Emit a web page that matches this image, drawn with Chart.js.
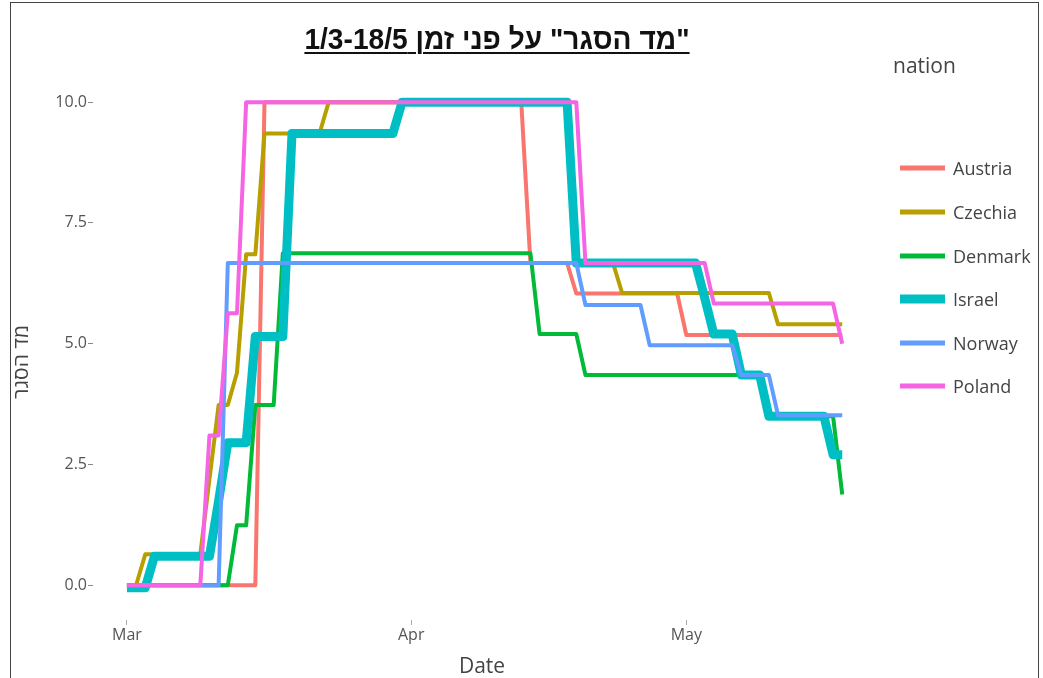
<!DOCTYPE html>
<html>
<head>
<meta charset="utf-8">
<script src="https://cdn.jsdelivr.net/npm/chart.js@4"></script>
<style>
  html, body { margin: 0; padding: 0; background: #fff; }
  #wrap { position: relative; width: 1043px; height: 678px; overflow: hidden; font-family: "Open Sans", sans-serif; }
  #frame { position: absolute; left: 10px; top: 2px; width: 1029px; height: 700px; border: 1px solid #444; box-sizing: border-box; }
  #box { position: absolute; left: 0; top: 0; width: 1043px; height: 678px; }
  #title { position: absolute; left: 297px; width: 400px; top: 23px; text-align: center; direction: rtl;
    font: bold 29px "Liberation Sans Narrow", "Arial Narrow", "Liberation Sans", sans-serif; color: #111;
    text-decoration: underline; text-decoration-thickness: 2px; text-underline-offset: 3px; white-space: nowrap;
    transform: scaleX(0.97); }
  #ytitle { position: absolute; left: 20px; top: 362px; transform: translate(-50%, -50%) rotate(-90deg);
    font-size: 21px; color: #444; direction: rtl; white-space: nowrap; }
  #xtitle { position: absolute; left: 482px; top: 665px; transform: translate(-50%, -50%); font-size: 21px; color: #444; }
  #legend { position: absolute; left: 893px; top: 52px; color: #444; }
  #legend .lt { font-size: 21px; height: 26px; line-height: 26px; }
  #legend .it { position: absolute; left: 7px; width: 145px; height: 24px; }
  #legend .sw { position: absolute; left: 0; width: 45px; top: 50%; transform: translateY(-50%); }
  #legend .tx { position: absolute; left: 53px; top: 50%; transform: translateY(-50%); font-size: 18px; white-space: nowrap; }
</style>
</head>
<body>
<div id="wrap">
  <div id="box"><canvas id="c"></canvas></div>
  <div id="frame"></div>
  <div id="title">"מד הסגר" על פני זמן 1/3-18/5</div>
  <div id="ytitle">מד הסגר</div>
  <div id="xtitle">Date</div>
  <div id="legend"><div class="lt">nation</div></div>
</div>
<script>
// day 0 = 1 March; [day, value]
var austria = [[0,0],[14,0],[15,10],[43,10],[44,6.67],[48,6.67],[49,6.04],[60,6.04],[61,5.18],[78,5.18]];
var czechia = [[0,0],[1,0],[2,0.64],[8,0.64],[9,2.2],[10,3.73],[11,3.73],[12,4.4],[13,6.85],[14,6.85],[15,9.35],[21,9.35],[22,10],[48,10],[49,6.67],[53,6.67],[54,6.05],[70,6.05],[71,5.4],[78,5.4]];
var denmark = [[0,0],[11,0],[12,1.24],[13,1.24],[14,3.73],[16,3.73],[17,6.87],[44,6.87],[45,5.2],[49,5.2],[50,4.35],[69,4.35],[70,3.5],[77,3.5],[78,1.88]];
var israel = [[0,-0.05],[2,-0.05],[3,0.6],[9,0.6],[10,1.75],[11,2.95],[13,2.95],[14,5.15],[17,5.15],[18,9.35],[29,9.35],[30,10],[48,10],[49,6.67],[62,6.67],[63,5.95],[64,5.2],[66,5.2],[67,4.35],[69,4.35],[70,3.5],[76,3.5],[77,2.7],[78,2.7]];
var norway = [[0,0],[10,0],[11,6.67],[49,6.67],[50,5.8],[56,5.8],[57,4.97],[66,4.97],[67,4.35],[70,4.35],[71,3.52],[78,3.52]];
var poland = [[0,0],[8,0],[9,3.1],[10,3.1],[11,5.63],[12,5.63],[13,10],[49,10],[50,6.67],[63,6.67],[64,5.83],[77,5.83],[78,5.0]];

var nations = ["Austria", "Czechia", "Denmark", "Israel", "Norway", "Poland"];
var series = [austria, czechia, denmark, israel, norway, poland];
var colors = ["#F8766D", "#B79F00", "#00BA38", "#00BFC4", "#619CFF", "#F564E3"];
var widths = [4, 4, 4, 9, 4, 4];

var xTickDays = [0, 31, 61];
var xTickLabels = ["Mar", "Apr", "May"];
var yTicks = [0, 2.5, 5, 7.5, 10];

var tickFont = { family: "Open Sans", size: 16 };

new Chart(document.getElementById("c"), {
  type: "line",
  data: {
    datasets: series.map(function (d, i) {
      return { label: nations[i], data: d, borderColor: colors[i], borderWidth: widths[i],
        pointRadius: 0, tension: 0, fill: false, borderJoinStyle: "round", order: 6 - i };
    })
  },
  options: {
    responsive: true, maintainAspectRatio: false, animation: false, events: [],
    layout: { padding: { top: 78, right: 165, left: 0, bottom: 0 } },
    plugins: { legend: { display: false }, tooltip: { enabled: false } },
    scales: {
      x: {
        type: "linear", min: -3.7, max: 81.9,
        afterBuildTicks: function (s) { s.ticks = xTickDays.map(function (v) { return { value: v }; }); },
        afterFit: function (s) { s.height = 58; },
        grid: { drawOnChartArea: false, drawTicks: true, tickLength: 5, color: "#aaa" },
        border: { display: false },
        ticks: { autoSkip: false, maxRotation: 0, padding: 1, color: "#555", font: tickFont,
          callback: function (v, i) { return xTickLabels[i]; } }
      },
      y: {
        min: -0.72, max: 10.5,
        afterBuildTicks: function (s) { s.ticks = yTicks.map(function (v) { return { value: v }; }); },
        afterFit: function (s) { s.width = 93; },
        grid: { drawOnChartArea: false, drawTicks: true, tickLength: 5, color: "#888" },
        border: { display: false },
        ticks: { padding: 1, color: "#555", font: tickFont,
          callback: function (v) { return v.toFixed(1); } }
      }
    }
  }
});

// legend
var lg = document.getElementById("legend");
var rowY = [116, 160, 204, 247, 291, 334];
nations.forEach(function (n, i) {
  var it = document.createElement("div");
  it.className = "it";
  it.style.top = (rowY[i] - 12) + "px";
  it.innerHTML = '<span class="sw" style="height:' + (widths[i] === 9 ? 9 : 5) + 'px;background:' + colors[i] + '"></span><span class="tx">' + n + "</span>";
  lg.appendChild(it);
});
</script>
</body>
</html>
